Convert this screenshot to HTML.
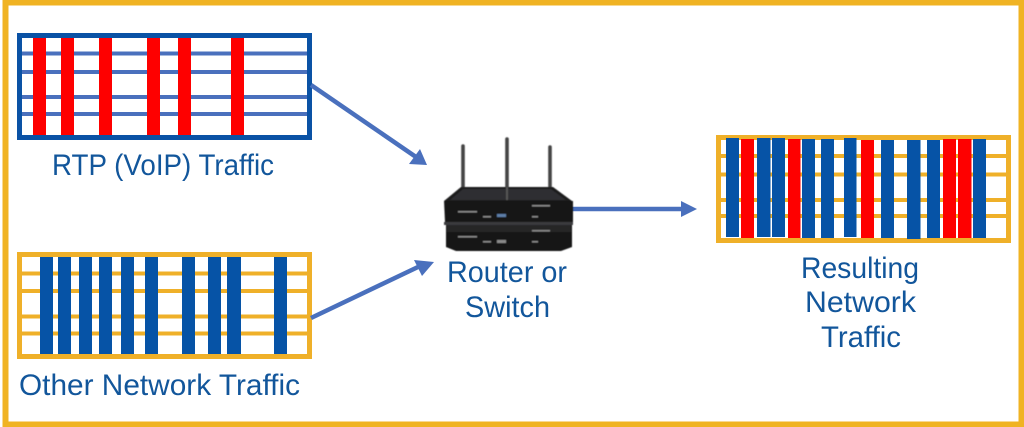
<!DOCTYPE html>
<html><head><meta charset="utf-8"><style>
html,body{margin:0;padding:0;background:#fff}
svg{display:block}
text{font-family:"Liberation Sans",sans-serif;font-size:30px;fill:#12569b}
</style></head><body>
<svg width="1024" height="427" viewBox="0 0 1024 427" xmlns="http://www.w3.org/2000/svg">
<defs>
<filter id="b" x="-5%" y="-5%" width="110%" height="110%"><feGaussianBlur stdDeviation="0.6"/></filter>
</defs>
<rect width="1024" height="427" fill="#fff"/>
<rect x="5.500" y="2.500" width="1016" height="422" fill="none" stroke="#f0b323" stroke-width="6"/>

<!-- top box -->
<g fill="#4a70bd">
<rect x="19" y="51.500" width="291" height="4"/><rect x="19" y="70" width="291" height="4"/><rect x="19" y="95" width="291" height="4"/><rect x="19" y="112" width="291" height="4"/>
</g>
<g fill="#fe0000">
<rect x="33" y="36" width="13" height="99"/><rect x="61" y="36" width="13" height="99"/><rect x="99" y="36" width="13" height="99"/><rect x="147" y="36" width="13" height="99"/><rect x="178" y="36" width="13" height="100"/><rect x="231" y="36" width="13" height="99"/>
</g>
<rect x="19.500" y="35.500" width="290" height="102" fill="none" stroke="#0a52a5" stroke-width="5"/>
<text x="52" y="175" textLength="222" lengthAdjust="spacingAndGlyphs">RTP (VoIP) Traffic</text>

<!-- bottom box -->
<g fill="#efb029">
<rect x="19" y="271.500" width="291" height="4"/><rect x="19" y="289" width="291" height="4"/><rect x="19" y="314.500" width="291" height="4"/><rect x="19" y="331.500" width="291" height="4"/>
</g>
<g fill="#0653a6">
<rect x="40" y="256" width="13" height="98"/><rect x="58" y="256" width="13" height="98"/><rect x="79" y="256" width="13" height="99"/><rect x="99" y="256" width="13" height="99"/><rect x="121" y="256" width="13" height="99"/><rect x="145" y="256" width="13" height="98"/><rect x="182" y="256" width="13" height="99"/><rect x="208" y="257" width="13" height="99"/><rect x="227" y="257" width="14" height="99"/><rect x="274" y="256" width="13" height="99"/>
</g>
<rect x="19.500" y="254.500" width="290" height="102" fill="none" stroke="#efb029" stroke-width="5"/>
<text x="19" y="395" textLength="281" lengthAdjust="spacingAndGlyphs">Other Network Traffic</text>

<!-- right box -->
<g fill="#efb029">
<rect x="718" y="154" width="291" height="4"/><rect x="718" y="172.500" width="291" height="4"/><rect x="718" y="198" width="291" height="4"/><rect x="718" y="214" width="291" height="4"/>
</g>
<rect x="718.500" y="137.500" width="290" height="103" fill="none" stroke="#efb029" stroke-width="5"/>
<g fill="#0653a6">
<rect x="726" y="138" width="13" height="99"/><rect x="757" y="138" width="13.500" height="99"/><rect x="772" y="138" width="13" height="99"/><rect x="802" y="139" width="13" height="99"/><rect x="821" y="139" width="13" height="99"/><rect x="844" y="138" width="12.500" height="99"/><rect x="881" y="140" width="13" height="98"/><rect x="907" y="140" width="13.500" height="99"/><rect x="927" y="140" width="13" height="98"/><rect x="973" y="139" width="13" height="99"/>
</g>
<g fill="#fe0000">
<rect x="741" y="139" width="13" height="99"/><rect x="788" y="139" width="12.500" height="99"/><rect x="861" y="140" width="13" height="98"/><rect x="943" y="139" width="13" height="99"/><rect x="958" y="139" width="13.500" height="99"/>
</g>

<!-- arrows -->
<g stroke="#4a70bd" stroke-width="4.500" fill="none">
<line x1="311" y1="85" x2="416" y2="157"/>
<line x1="311" y1="318" x2="418" y2="267"/>
<line x1="572" y1="209" x2="684" y2="209"/>
</g>
<g fill="#4a70bd">
<polygon points="427,165 409,164 420,149"/>
<polygon points="434,262 422,276 414,260"/>
<polygon points="697,209 681,201 681,217"/>
</g>

<!-- router -->
<g filter="url(#b)">
<g stroke="#444" stroke-width="3.600" stroke-linecap="round">
<line x1="463" y1="146" x2="463" y2="190"/><line x1="507" y1="139" x2="507" y2="195"/><line x1="550" y1="147" x2="550" y2="190"/>
</g>
<path d="M461 187 L553 187 L572 201 L573 222 L445 222 L444 201 Z" fill="#1b1b1d"/>
<path d="M463 189 L551 189 L566 200 L450 200 Z" fill="#2d2d30"/>
<line x1="507" y1="187" x2="507" y2="200" stroke="#555" stroke-width="2"/>
<rect x="445" y="201" width="128" height="21" fill="#151517"/>
<rect x="444" y="222" width="129" height="3" fill="#3b3b3d"/>
<path d="M446 225 L572 225 L572 247 L561 251 L456 251 L446 247 Z" fill="#161618"/>
<rect x="447" y="225" width="124" height="7" fill="#262628"/>
<rect x="497" y="214" width="9" height="3" fill="#5d7ea8"/>
<rect x="497" y="240" width="9" height="3" fill="#8a8a8a"/>
<g fill="#888">
<rect x="458" y="211" width="19" height="1.500"/><rect x="458" y="236" width="19" height="1.500"/>
<rect x="532" y="205" width="18" height="1.500"/><rect x="532" y="230" width="18" height="1.500"/>
<rect x="483" y="216" width="8" height="1.500"/><rect x="483" y="241" width="8" height="1.500"/>
<rect x="532" y="216" width="6" height="1.500"/><rect x="532" y="241" width="6" height="1.500"/>
</g>
</g>
<text x="447" y="282" textLength="120" lengthAdjust="spacingAndGlyphs">Router or</text>
<text x="465" y="317" textLength="85" lengthAdjust="spacingAndGlyphs">Switch</text>

<text x="801" y="278" textLength="118" lengthAdjust="spacingAndGlyphs">Resulting</text>
<text x="805" y="312" textLength="111" lengthAdjust="spacingAndGlyphs">Network</text>
<text x="821" y="347" textLength="80" lengthAdjust="spacingAndGlyphs">Traffic</text>
</svg>
</body></html>
